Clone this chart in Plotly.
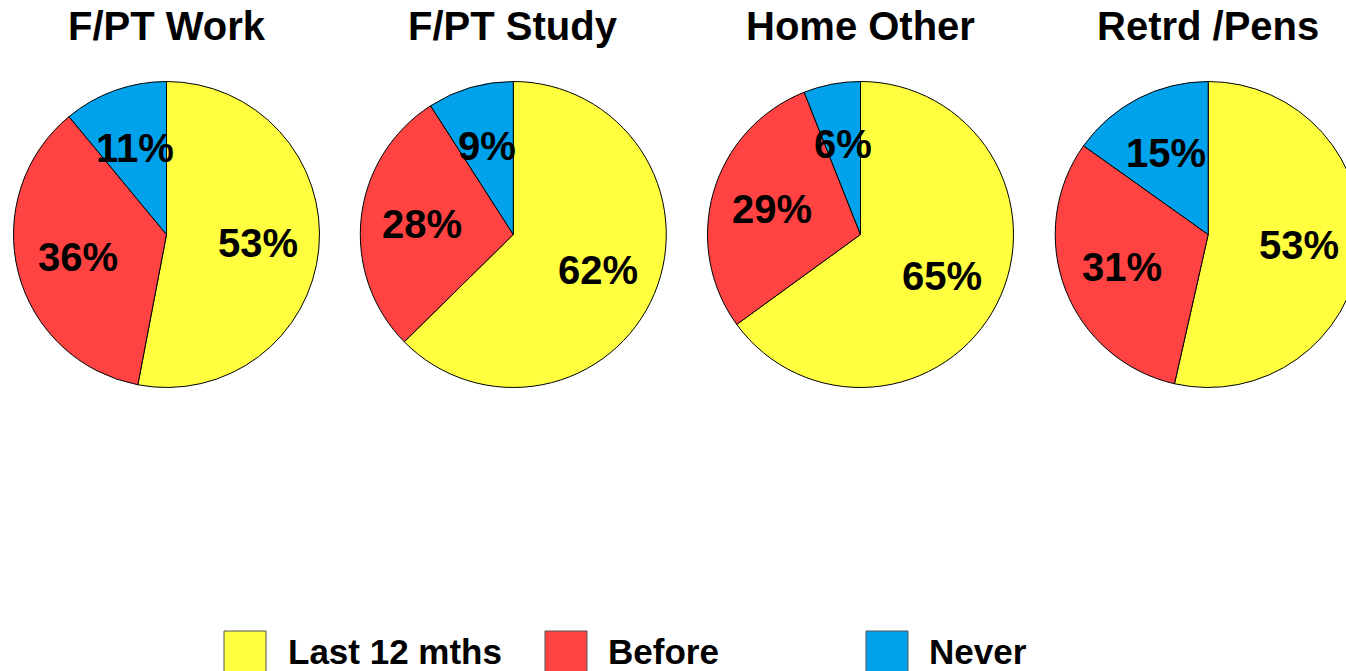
import math
import plotly.graph_objects as go

# Survey groups and the share of each answer (percent)
groups = ["F/PT Work", "F/PT Study", "Home Other", "Retrd /Pens"]
categories = ["Last 12 mths", "Before", "Never"]
last_12_mths = [53, 62, 65, 53]
before = [36, 28, 29, 31]
never = [11, 9, 6, 15]

colors = ["#FFFF40", "#FF4242", "#00A2EC"]

# Canvas and layout geometry (pixels)
W, H = 1390, 671
centers_x = [166.5, 513.3, 860.5, 1208.2]
center_y = 234.5
R = 153
LABEL_R = 0.6 * R
FONT = "Liberation Sans, Arial, sans-serif"


def px_x(x):
    return x / W


def px_y(y):
    return 1 - y / H


fig = go.Figure()
annotations = []

for i, name in enumerate(groups):
    vals = [last_12_mths[i], before[i], never[i]]
    cx = centers_x[i]
    fig.add_trace(go.Pie(
        labels=categories,
        values=vals,
        sort=False,
        direction="clockwise",
        rotation=0,
        marker=dict(colors=colors, line=dict(color="black", width=1)),
        textinfo="none",
        hoverinfo="skip",
        showlegend=False,
        domain=dict(x=[px_x(cx - R), px_x(cx + R)],
                    y=[px_y(center_y + R), px_y(center_y - R)]),
    ))

    # group title
    annotations.append(dict(
        x=px_x(cx), y=px_y(26), xref="paper", yref="paper",
        text=name, showarrow=False, xanchor="center", yanchor="middle",
        font=dict(family=FONT, size=40, color="black", weight="bold"),
    ))

    # percentage labels at the middle angle of each slice
    total = sum(vals)
    cum = 0
    for v in vals:
        theta = 2 * math.pi * (cum + v / 2) / total
        cum += v
        lx = cx + LABEL_R * math.sin(theta)
        ly = center_y - LABEL_R * math.cos(theta)
        annotations.append(dict(
            x=px_x(lx), y=px_y(ly), xref="paper", yref="paper",
            text=f"{v}%", showarrow=False, xanchor="center", yanchor="middle",
            font=dict(family=FONT, size=40, color="black", weight="bold"),
        ))

# legend drawn as swatches with labels along the bottom
legend_box_x = [224, 545, 866]
legend_text_x = [286, 606, 927]
shapes = []
for cat, col, bx, tx in zip(categories, colors, legend_box_x, legend_text_x):
    shapes.append(dict(
        type="rect", xref="paper", yref="paper",
        x0=px_x(bx), x1=px_x(bx + 42), y0=px_y(673), y1=px_y(631),
        fillcolor=col, line=dict(color="#555555", width=1),
    ))
    annotations.append(dict(
        x=px_x(tx), y=px_y(651), xref="paper", yref="paper",
        text=cat, showarrow=False, xanchor="left", yanchor="middle",
        font=dict(family=FONT, size=35, color="black", weight="bold"),
    ))

fig.update_layout(
    width=W, height=H,
    autosize=False,
    margin=dict(l=0, r=0, t=0, b=0),
    paper_bgcolor="white",
    plot_bgcolor="white",
    showlegend=False,
    annotations=annotations,
    shapes=shapes,
)

fig.write_html(
    "out.html",
    config={"displayModeBar": False},
    post_script=(
        "document.documentElement.style.overflow='hidden';"
        "document.body.style.overflow='hidden';"
        "document.body.style.margin='0';"
    ),
)
